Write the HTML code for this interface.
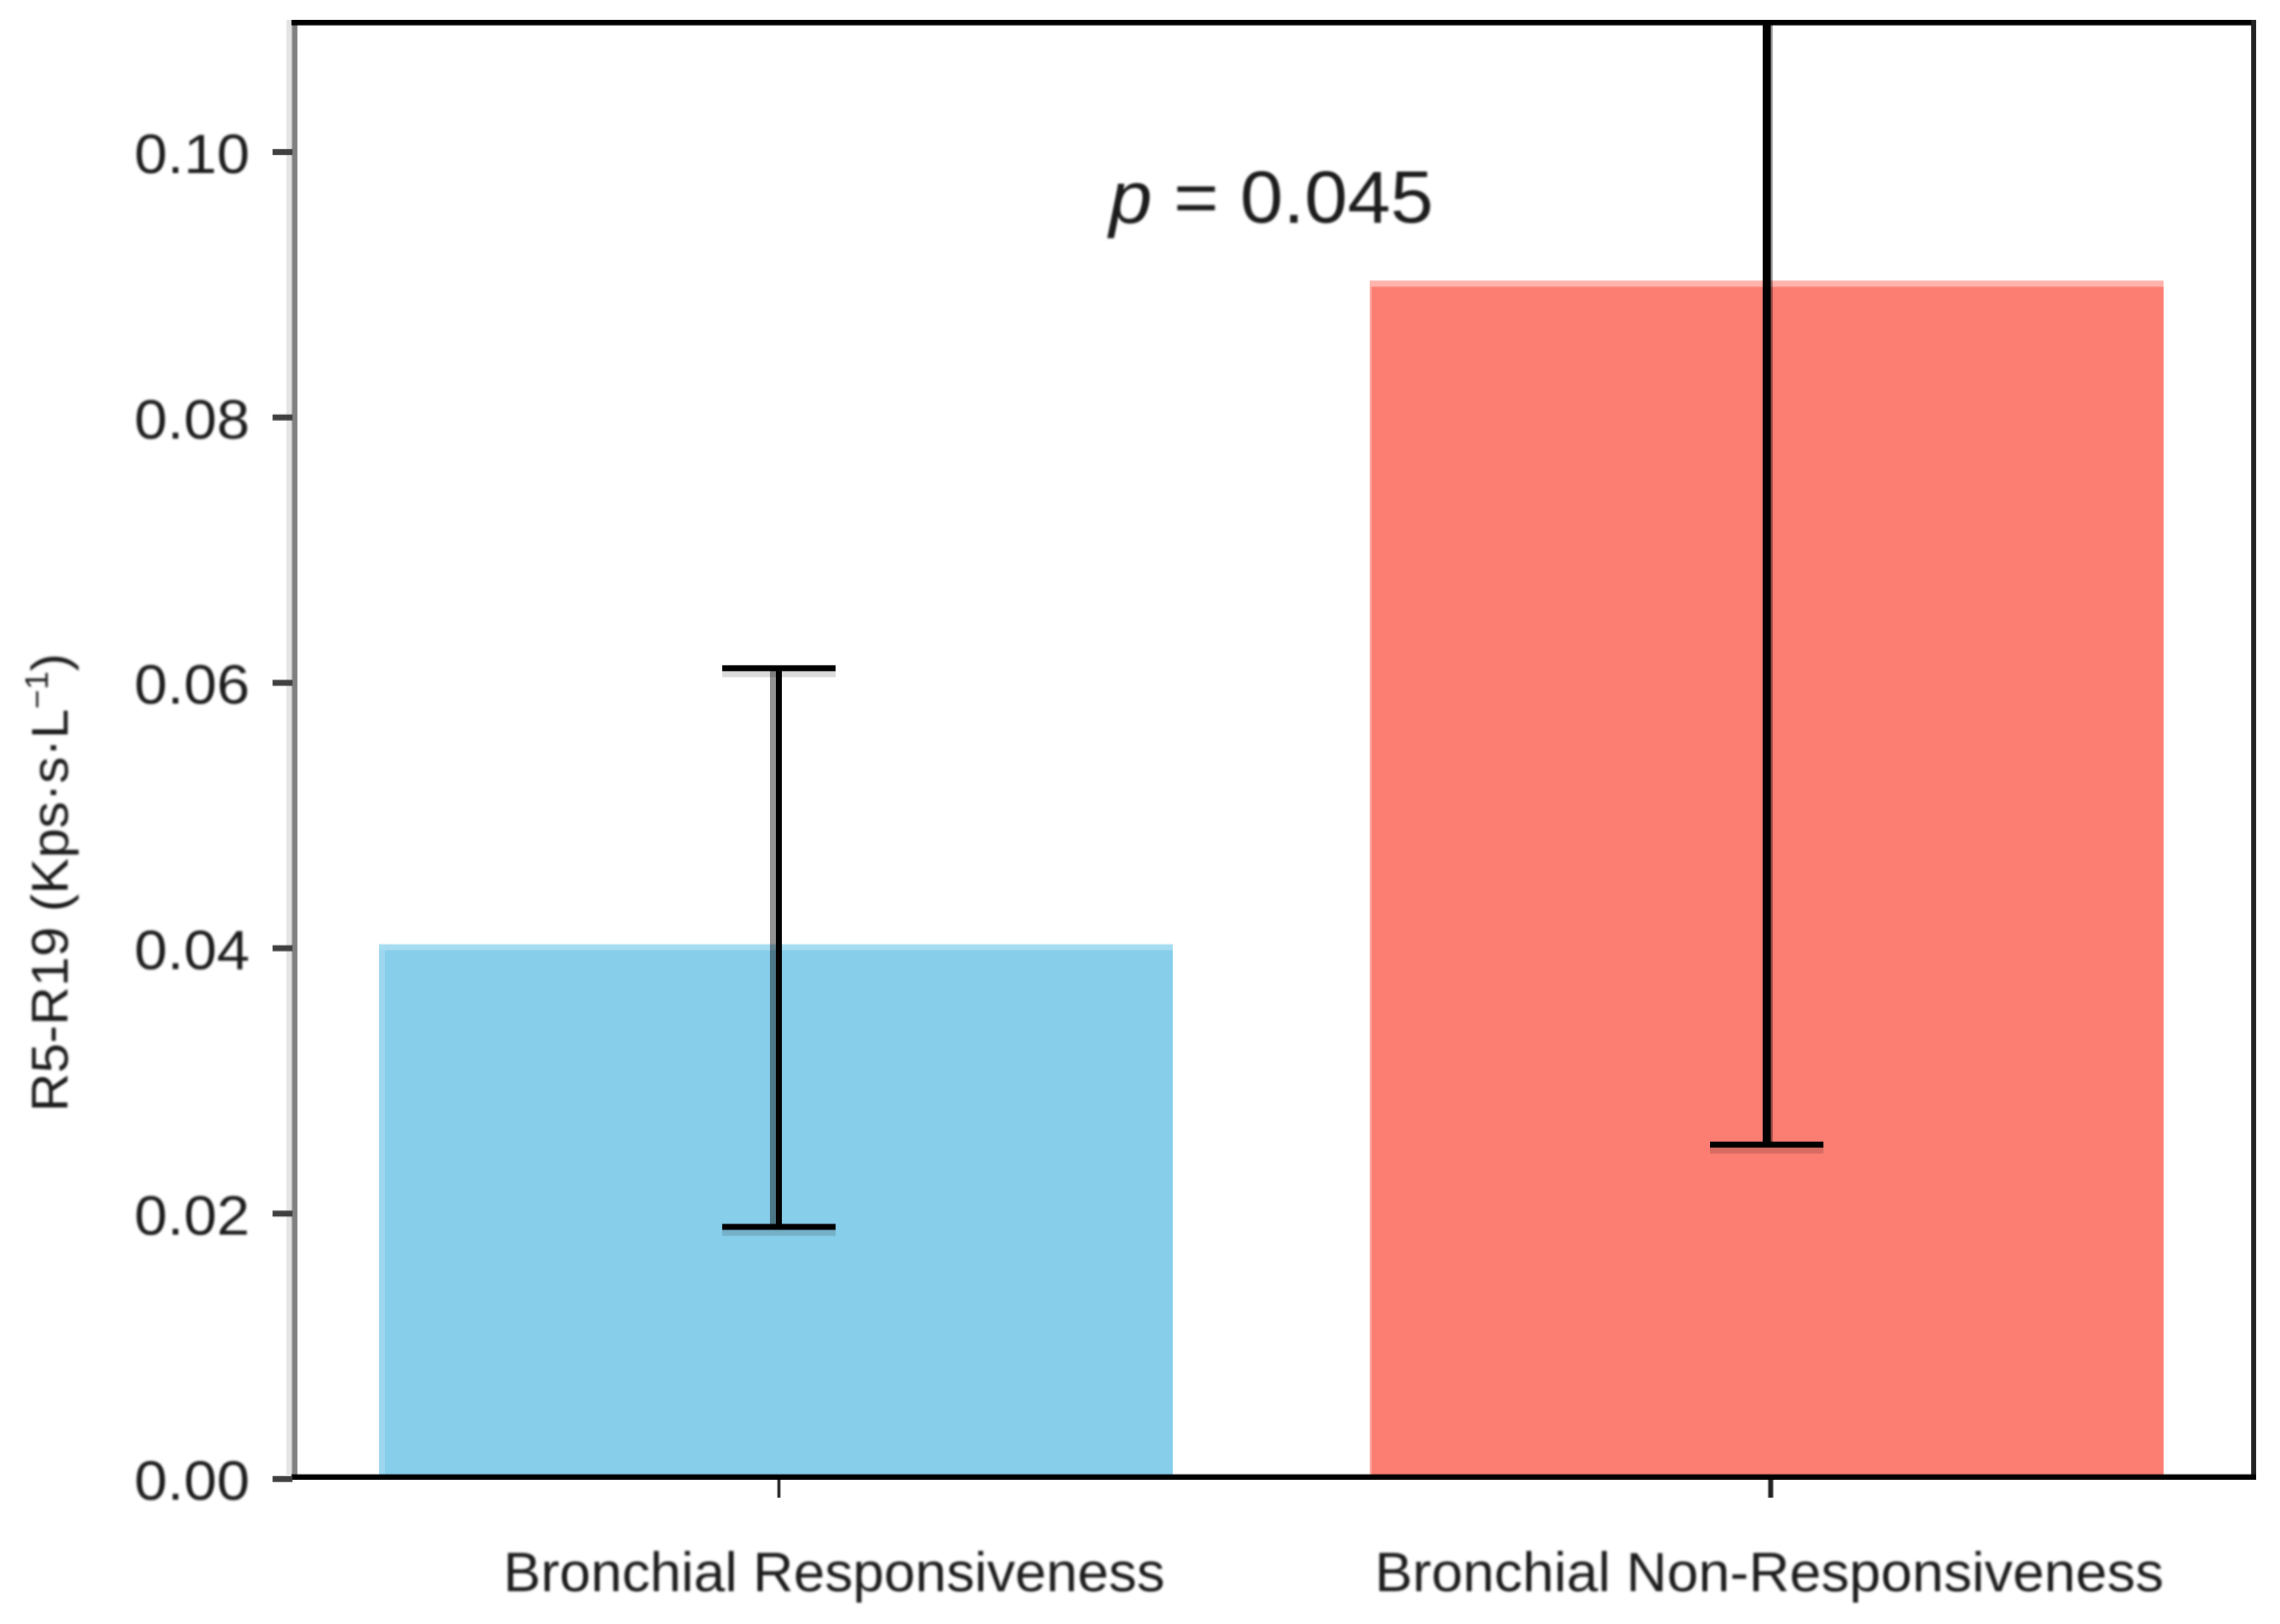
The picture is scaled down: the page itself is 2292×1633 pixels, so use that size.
<!DOCTYPE html>
<html lang="en">
<head>
<meta charset="utf-8">
<title>R5-R19 by bronchial responsiveness</title>
<style>
  html, body { margin: 0; padding: 0; background: #fff; }
  svg { display: block; }
  text { font-family: "Liberation Sans", "DejaVu Sans", sans-serif; fill: #1c1c1c; }
  .soft { filter: blur(1.1px); }
</style>
</head>
<body>
<svg id="chart" xmlns="http://www.w3.org/2000/svg" width="2292" height="1633" viewBox="0 0 2292 1633">
  <defs>
    <clipPath id="plot-clip"><rect x="293" y="20" width="1975" height="1470"/></clipPath>
  </defs>
  <rect x="0" y="0" width="2292" height="1633" fill="#ffffff"/>
  <g id="bars"></g>
  <g id="errors" clip-path="url(#plot-clip)"></g>
  <g id="frame">
    <rect x="288" y="20" width="6" height="1463" fill="#e4e4e4"/>
    <rect x="293.5" y="20" width="5.5" height="1463" fill="#808080"/>
    <rect x="293" y="20" width="1975" height="5.5" fill="#000000"/>
    <rect x="2263" y="20" width="5" height="1468" fill="#222222"/>
    <rect x="293" y="1482.5" width="1975" height="5.5" fill="#000000"/>
  </g>
  <g id="y-ticks"></g>
  <g id="x-ticks"></g>
  <text class="soft" x="1115" y="224" font-size="74" textLength="326" lengthAdjust="spacingAndGlyphs"><tspan font-style="italic">p</tspan> = 0.045</text>
  <text class="soft" transform="translate(68,1118) rotate(-90)" font-size="52" textLength="461" lengthAdjust="spacingAndGlyphs">R5-R19 (Kps·s·L<tspan font-size="32" dy="-20">−1</tspan><tspan dy="20">)</tspan></text>
</svg>
<script>
const categories = ['Bronchial Responsiveness', 'Bronchial Non-Responsiveness'];
const barValues = [0.0403, 0.0903];
const errorLower = [0.019, 0.0252];
const errorUpper = [0.0611, 0.1554];
const yTickValues = [0, 0.02, 0.04, 0.06, 0.08, 0.1];
const yTickLabels = ['0.00', '0.02', '0.04', '0.06', '0.08', '0.10'];
const barColors = ['#87ceeb', '#fc7e73'];
const barEdgeColors = ['#a6dcf1', '#ffb3ac'];

const NS = 'http://www.w3.org/2000/svg';
function yScale(v) { return 1487.2 - 13343 * v; }
function xScale(i) { return 780 + i * 996; }
const barHalfWidth = 399;
const capHalfWidth = 57;

function make(tag, parent, attrs) {
  const el = document.createElementNS(NS, tag);
  for (const k in attrs) el.setAttribute(k, attrs[k]);
  parent.appendChild(el);
  return el;
}

const barsG = document.getElementById('bars');
const errG = document.getElementById('errors');
const yG = document.getElementById('y-ticks');
const xG = document.getElementById('x-ticks');

barValues.forEach(function (v, i) {
  const cx = xScale(i);
  const top = yScale(v);
  const base = yScale(0);
  const bar = make('rect', barsG, { x: cx - barHalfWidth, y: top, width: barHalfWidth * 2, height: base - top, fill: barColors[i] });
  
  
  const band = make('rect', barsG, { x: cx - barHalfWidth, y: top, width: barHalfWidth * 2, height: 6, fill: barEdgeColors[i] });
  
  
  const side = make('rect', barsG, { x: cx - barHalfWidth, y: top, width: i === 0 ? 6 : 2, height: base - top, fill: barEdgeColors[i], opacity: 0.7 });
  
  
});

errorLower.forEach(function (lo, i) {
  const cx = xScale(i) + (i === 0 ? 3 : 0);
  const stemHalf = i === 0 ? 3 : 4;
  const yLo = yScale(lo);
  const yHi = yScale(errorUpper[i]);
  const ghost = make('rect', errG, { x: i === 0 ? cx - 9 : cx + 4, y: yHi, width: i === 0 ? 6 : 2, height: yLo - yHi, fill: '#000000', opacity: 0.42 });
  
  
  const stem = make('rect', errG, { x: cx - stemHalf, y: yHi, width: stemHalf * 2, height: yLo - yHi, fill: '#000000' });
  
  
  [yLo, yHi].forEach(function (cy) {
    const shadow = make('rect', errG, { x: cx - capHalfWidth, y: cy + 3, width: capHalfWidth * 2, height: 6, fill: '#000000', opacity: 0.14 });
    
    
    const cap = make('rect', errG, { x: cx - capHalfWidth, y: cy - 3, width: capHalfWidth * 2, height: 6, fill: '#000000' });
    
    
  });
});

yTickValues.forEach(function (v, i) {
  const y = yScale(v);
  const tick = make('rect', yG, { x: 274, y: y - 3, width: 20, height: 6, fill: '#3f3f3f' });
  
  
  const label = make('text', yG, { x: 135, y: y + 21, 'font-size': 56, textLength: 116, lengthAdjust: 'spacingAndGlyphs', class: 'soft' });
  
  
  label.textContent = yTickLabels[i];
});

const labelLeft = [506, 1382];
const labelWidth = [665, 793];
categories.forEach(function (name, i) {
  const tick = make('rect', xG, { x: xScale(i) + 1.5, y: 1488, width: i === 0 ? 3 : 5, height: 18, fill: '#222222' });
  
  
  const label = make('text', xG, { x: labelLeft[i], y: 1600, 'font-size': 56, textLength: labelWidth[i], lengthAdjust: 'spacingAndGlyphs', class: 'soft' });
  
  
  label.textContent = name;
});
</script>
</body>
</html>
